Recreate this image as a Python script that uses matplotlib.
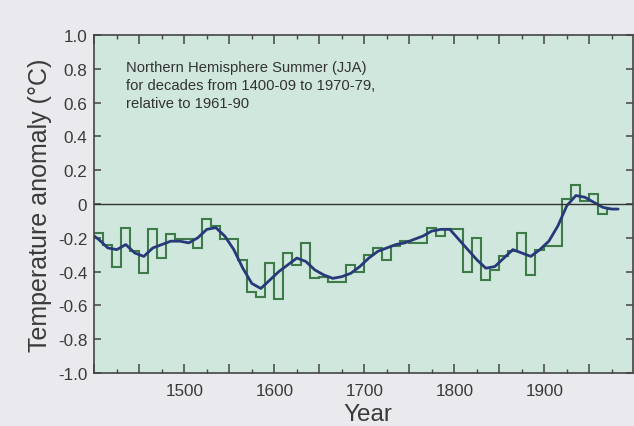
import numpy as np
import matplotlib
matplotlib.use("Agg")
import matplotlib.pyplot as plt
from matplotlib.ticker import MultipleLocator, FuncFormatter, FixedLocator

plt.rcParams['font.family'] = ['Liberation Sans', 'DejaVu Sans']

# decadal NH summer anomalies, 1400-09 ... 1970-79
decade_start = list(range(1400, 1980, 10))
decade_anom = [
    -0.17, -0.24, -0.37, -0.14, -0.28, -0.41, -0.15, -0.32, -0.18, -0.21,  # 1400s-1490s
    -0.21, -0.26, -0.09, -0.13, -0.21, -0.21, -0.33, -0.52, -0.55, -0.35,  # 1500s-1590s
    -0.56, -0.29, -0.36, -0.23, -0.44, -0.43, -0.46, -0.46, -0.36, -0.40,  # 1600s-1690s
    -0.30, -0.26, -0.33, -0.25, -0.22, -0.23, -0.23, -0.14, -0.19, -0.15,  # 1700s-1790s
    -0.15, -0.40, -0.20, -0.45, -0.39, -0.31, -0.28, -0.17, -0.42, -0.27,  # 1800s-1890s
    -0.25, -0.25, 0.03, 0.11, 0.02, 0.06, -0.06, -0.03,                    # 1900s-1970s
]

# smoothed curve, read at decade mid-points
smooth_years = [1400] + [y + 5 for y in decade_start] + [1982]
smooth_vals = [
    -0.19,
    -0.21, -0.26, -0.27, -0.24, -0.29, -0.31, -0.26, -0.24, -0.22, -0.22,
    -0.23, -0.20, -0.15, -0.14, -0.19, -0.27, -0.38, -0.47, -0.50, -0.45,
    -0.40, -0.36, -0.32, -0.34, -0.39, -0.42, -0.44, -0.43, -0.41, -0.37,
    -0.32, -0.28, -0.26, -0.24, -0.23, -0.21, -0.19, -0.16, -0.15, -0.15,
    -0.21, -0.27, -0.33, -0.38, -0.37, -0.32, -0.27, -0.29, -0.31, -0.27,
    -0.22, -0.13, -0.01, 0.05, 0.04, 0.01, -0.02, -0.03,
    -0.03,
]

x_labels = [1500, 1600, 1700, 1800, 1900]
y_ticks = [1.0, 0.8, 0.6, 0.4, 0.2, 0.0, -0.2, -0.4, -0.6, -0.8, -1.0]

fig = plt.figure(figsize=(6.34, 4.27), dpi=100, facecolor='#e9e9ee')
ax = fig.add_axes([94.3 / 634, 1 - 374 / 427, (633 - 94.3) / 634, (374 - 36) / 427])
ax.set_facecolor('#cfe7dc')

# decadal steps
edges = decade_start + [decade_start[-1] + 10]
ax.stairs(decade_anom, edges, baseline=None, color='#3f7b48', linewidth=1.5)

# smooth line
ax.plot(smooth_years, smooth_vals, color='#27397a', linewidth=2.0, solid_capstyle='round')

ax.axhline(0, color='#333333', linewidth=1.0)

ax.set_xlim(1400, 1998.5)
ax.set_ylim(-1.0, 1.0)

ax.xaxis.set_major_locator(MultipleLocator(50))
ax.xaxis.set_minor_locator(MultipleLocator(25))
ax.xaxis.set_major_formatter(FuncFormatter(
    lambda v, p: f"{int(round(v))}" if int(round(v)) in x_labels else ""))
ax.yaxis.set_major_locator(FixedLocator(y_ticks))
ax.yaxis.set_major_formatter(FuncFormatter(
    lambda v, p: "0" if abs(v) < 1e-9 else f"{v:.1f}".replace("\u2212", "-")))

ax.tick_params(axis='both', which='both', direction='in', top=True, right=True,
               colors='#444444', labelcolor='#3a3a3a', labelsize=12.3)
ax.tick_params(axis='x', which='major', length=6.5, width=1.1, pad=7)
ax.tick_params(axis='x', which='minor', length=3, width=1.0)
ax.tick_params(axis='y', which='major', length=5, width=1.1, pad=5)

for s in ax.spines.values():
    s.set_color('#444444')
    s.set_linewidth(1.2)

ax.set_xlabel("Year", fontsize=17.5, color='#3a3a3a')
ax.xaxis.set_label_coords(0.508, -0.088)
ax.set_ylabel("Temperature anomaly (\u00b0C)", fontsize=18, color='#3a3a3a')
ax.yaxis.set_label_coords(-0.078, 0.5)

ax.text(0.059, 0.925,
        "Northern Hemisphere Summer (JJA)\nfor decades from 1400-09 to 1970-79,\nrelative to 1961-90",
        transform=ax.transAxes, ha='left', va='top', fontsize=10.6,
        linespacing=1.35, color='#333333')

fig.savefig("out.png", dpi=100, facecolor=fig.get_facecolor())
